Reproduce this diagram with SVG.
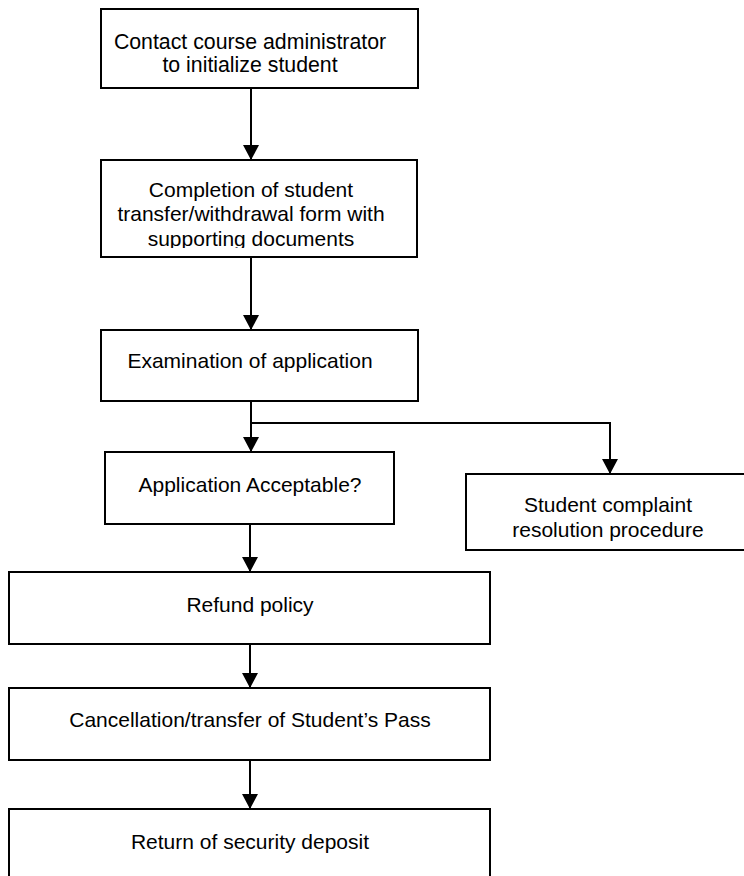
<svg xmlns="http://www.w3.org/2000/svg" width="744" height="876" viewBox="0 0 744 876">
<style>
.box{fill:#fff;stroke:#000;stroke-width:2}
.t{font-family:"Liberation Sans",Arial,sans-serif;font-size:21px;fill:#000;text-anchor:middle}
.c{fill:none;stroke:#000;stroke-width:2}
</style>
<defs>
<marker id="ah" markerUnits="userSpaceOnUse" markerWidth="15" markerHeight="16" refX="15" refY="8" orient="auto">
<path d="M0,0 L15,8 L0,16 z" fill="#000"/>
</marker>
<clipPath id="clip2"><rect x="100" y="160" width="318" height="88"/></clipPath>
</defs>
<rect width="744" height="876" fill="#fff"/>
<g id="n1">
<rect class="box" x="101" y="9" width="317" height="79"/>
<text class="t" x="250" y="49" style="font-size:21.3px">Contact course administrator</text>
<text class="t" x="250" y="72" style="font-size:21.3px">to initialize student</text>
</g>
<g id="n2">
<rect class="box" x="101" y="160" width="316" height="97"/>
<g clip-path="url(#clip2)">
<text class="t" x="251" y="197">Completion of student</text>
<text class="t" x="251" y="221">transfer/withdrawal form with</text>
<text class="t" x="251" y="246">supporting documents</text>
</g>
</g>
<g id="n3">
<rect class="box" x="101" y="330" width="317" height="71"/>
<text class="t" x="250" y="368">Examination of application</text>
</g>
<g id="n4">
<rect class="box" x="105" y="452" width="289" height="72"/>
<text class="t" x="250" y="492">Application Acceptable?</text>
</g>
<g id="n5">
<rect class="box" x="466" y="474" width="290" height="76"/>
<text class="t" x="608" y="512">Student complaint</text>
<text class="t" x="608" y="537">resolution procedure</text>
</g>
<g id="n6">
<rect class="box" x="9" y="572" width="481" height="72"/>
<text class="t" x="250" y="612">Refund policy</text>
</g>
<g id="n7">
<rect class="box" x="9" y="688" width="481" height="72"/>
<text class="t" x="250" y="727">Cancellation/transfer of Student’s Pass</text>
</g>
<g id="n8">
<rect class="box" x="9" y="809" width="481" height="90"/>
<text class="t" x="250" y="849">Return of security deposit</text>
</g>
<g id="connectors">
<line class="c" x1="251" y1="88" x2="251" y2="160" marker-end="url(#ah)"/>
<line class="c" x1="251" y1="257" x2="251" y2="330" marker-end="url(#ah)"/>
<line class="c" x1="251" y1="401" x2="251" y2="452" marker-end="url(#ah)"/>
<polyline class="c" points="251,423 610,423 610,474" marker-end="url(#ah)"/>
<line class="c" x1="250" y1="524" x2="250" y2="572" marker-end="url(#ah)"/>
<line class="c" x1="250" y1="644" x2="250" y2="688" marker-end="url(#ah)"/>
<line class="c" x1="250" y1="760" x2="250" y2="809" marker-end="url(#ah)"/>
</g>
</svg>
